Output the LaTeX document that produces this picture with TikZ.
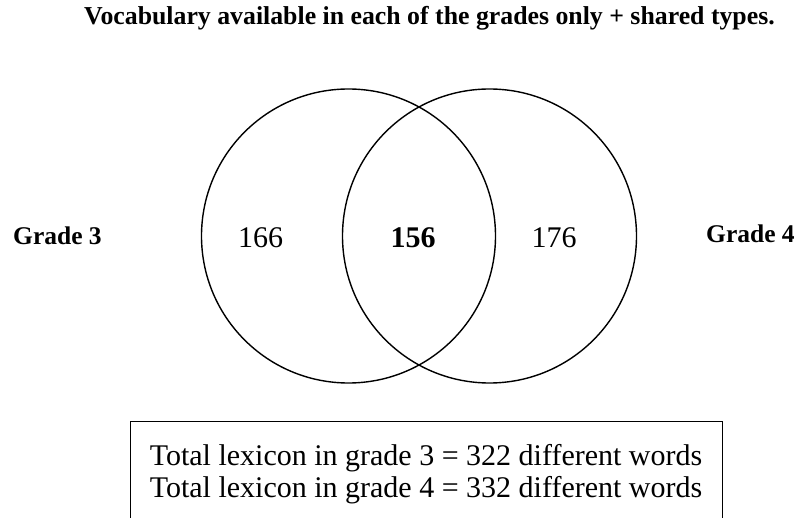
\documentclass[tikz,border=0pt]{standalone}
\usepackage{fontspec}
\setmainfont{Liberation Serif}
\begin{document}
\begin{tikzpicture}[x=1pt,y=-1pt,
  circ/.style={draw=black,line width=1.4pt,circle,minimum size=294pt,inner sep=0pt},
  boldlbl/.style={anchor=base,font=\fontsize{25.5}{30}\selectfont\bfseries,inner sep=0pt},
  numlbl/.style={anchor=base,font=\fontsize{30}{36}\selectfont,inner sep=0pt},
  boxlbl/.style={anchor=base,font=\fontsize{30}{36}\selectfont,inner sep=0pt}]
\useasboundingbox (0,0) rectangle (798,518);
\fill[white] (0,0) rectangle (798,518);
\node[boldlbl,font=\fontsize{25.8}{30}\selectfont\bfseries] (title) at (429.5,25) {Vocabulary available in each of the grades only + shared types.};
\node[circ] (c3) at (348.5,236) {};
\node[circ] (c4) at (489.5,236) {};
\node[boldlbl,anchor=base west] (g3) at (13,245) {Grade 3};
\node[boldlbl,anchor=base west] (g4) at (706,243) {Grade 4};
\node[numlbl] (n166) at (260.5,248) {166};
\node[numlbl,font=\fontsize{30}{36}\selectfont\bfseries] (n156) at (413,248) {156};
\node[numlbl] (n176) at (554,248) {176};
\begin{scope}
\clip (0,0) rectangle (798,518);
\node[draw=black,line width=1pt,minimum width=592pt,minimum height=120pt,inner sep=0pt] (box) at (426,482) {};
\end{scope}
\node[boxlbl] (t3) at (426,465) {Total lexicon in grade 3 = 322 different words};
\node[boxlbl] (t4) at (426,497) {Total lexicon in grade 4 = 332 different words};
\end{tikzpicture}
\end{document}
